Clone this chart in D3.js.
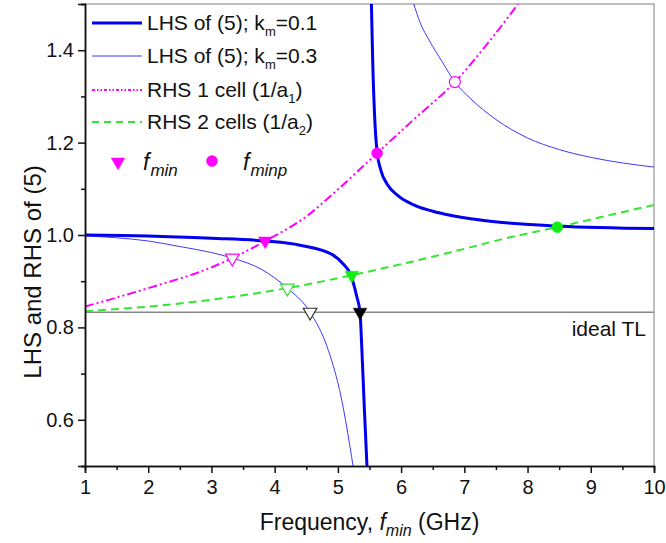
<!DOCTYPE html>
<html>
<head>
<meta charset="utf-8">
<title>LHS and RHS of (5)</title>
<script src="https://d3js.org/d3.v7.min.js"></script>
<style>
  body { margin: 0; background: #fff; font-family: 'Liberation Sans', Arial, sans-serif; }
  text { fill: #111; }
</style>
</head>
<body>
<div id="chart"></div>
<script>
// ******* Data *******
// [frequency GHz, value]
const lhs01Left = [[1,1.0],[2,0.998],[3,0.993],[3.85,0.987],[4.4,0.978],[4.92,0.957],[5.1,0.935],[5.19,0.918],[5.3,0.866],[5.35,0.833],[5.38,0.75],[5.42,0.62],[5.46,0.5]];
const lhs01Right = [[5.53,1.5],[5.55,1.38],[5.58,1.26],[5.62,1.18],[5.68,1.14],[5.78,1.11],[5.95,1.085],[6.2,1.065],[6.6,1.048],[7.1,1.035],[7.6,1.027],[8.5,1.019],[10,1.014]];
const lhs03Left = [[1,0.998],[1.5,0.994],[2,0.987],[2.5,0.975],[3,0.962],[3.33,0.95],[3.8,0.925],[4.2,0.885],[4.56,0.833],[4.85,0.75],[5.05,0.65],[5.24,0.5]];
const lhs03Right = [[6.2,1.5],[6.3,1.46],[6.45,1.42],[6.65,1.375],[6.85,1.331],[7.1,1.295],[7.5,1.25],[8.0,1.21],[8.5,1.185],[9.0,1.168],[9.5,1.156],[10,1.147]];
const rhs1 = [[1,0.845],[2,0.885],[3,0.93],[3.33,0.95],[3.85,0.987],[4.5,1.04],[4.93,1.09],[5.62,1.177],[6.2,1.25],[6.85,1.331],[7.4,1.42],[7.85,1.5]];
const rhs2 = [[1,0.835],[2,0.845],[3,0.86],[4.2,0.885],[5.22,0.913],[6,0.937],[7,0.97],[7.57,0.99],[8.47,1.017],[9.2,1.04],[10,1.065]];
const idealTL = 0.833;

// markers: [f, value, kind, color, filled]
const markers = [
  [3.33, 0.95, "tri", "#ff00ff", false],
  [3.85, 0.987, "tri", "#ff00ff", true],
  [4.2, 0.885, "tri", "#33dd33", false],
  [5.22, 0.913, "tri", "#11ee11", true],
  [4.56, 0.833, "tri", "#333333", false],
  [5.35, 0.833, "tri", "#000000", true],
  [5.62, 1.177, "dot", "#ff00ff", true],
  [6.85, 1.331, "dot", "#ff00ff", false],
  [8.47, 1.017, "dot", "#11ee11", true]
];

const xMajor = [1,2,3,4,5,6,7,8,9,10];
const xMinor = [1.5,2.5,3.5,4.5,5.5,6.5,7.5,8.5,9.5];
const yMajor = [0.6,0.8,1.0,1.2,1.4];
const yMinor = [0.5,0.7,0.9,1.1,1.3,1.5];

// ******* Layout *******
const width = 666, height = 543;
const pLeft = 85, pRight = 654, pTop = 4, pBottom = 466;

const x = d3.scaleLinear().domain([1, 10]).range([pLeft, pRight]);
const y = d3.scaleLinear().domain([0.5, 1.5]).range([pBottom, pTop]);

const svg = d3.select("#chart").append("svg")
    .attr("width", width)
    .attr("height", height);

svg.append("clipPath").attr("id", "clip")
  .append("rect")
    .attr("x", pLeft).attr("y", pTop)
    .attr("width", pRight - pLeft).attr("height", pBottom - pTop);

// frame top/right in grey
svg.append("path")
    .attr("d", `M${pLeft},${pTop}H${pRight}V${pBottom}`)
    .attr("fill", "none")
    .attr("stroke", "#aaa")
    .attr("stroke-width", 1.5);

// ideal TL
svg.append("line")
    .attr("x1", pLeft).attr("x2", pRight)
    .attr("y1", y(idealTL)).attr("y2", y(idealTL))
    .attr("stroke", "#888")
    .attr("stroke-width", 1.5);

svg.append("text")
    .attr("x", 646).attr("y", 336)
    .attr("text-anchor", "end")
    .attr("font-size", 21)
    .text("ideal TL");

// ******* Curves *******
const line = d3.line()
    .x(d => x(d[0]))
    .y(d => y(d[1]))
    .curve(d3.curveMonotoneX);

const g = svg.append("g").attr("clip-path", "url(#clip)");

function drawCurve(data, color, w, dash) {
  g.append("path")
      .datum(data)
      .attr("d", line)
      .attr("fill", "none")
      .attr("stroke", color)
      .attr("stroke-width", w)
      .attr("stroke-dasharray", dash || null);
}

drawCurve(rhs2, "#33e633", 2, "8,5");
drawCurve(rhs1, "#ff00ff", 2, "9,3,2,3,2,3");
drawCurve(lhs03Left, "#3a3aff", 1);
drawCurve(lhs03Right, "#3a3aff", 1);
drawCurve(lhs01Left, "#0000ee", 3);
drawCurve(lhs01Right, "#0000ee", 3);

// ******* Markers *******
const tri = d3.symbol().type(d3.symbolTriangle).size(80);

function drawMarker(sel, m, cx, cy) {
  const color = m[3], filled = m[4];
  if (m[2] === "tri") {
    sel.append("path")
        .attr("d", tri())
        .attr("transform", `translate(${cx},${cy}) rotate(180)`)
        .attr("fill", filled ? color : "#fff")
        .attr("stroke", color)
        .attr("stroke-width", filled ? 0.5 : 1.2);
  } else {
    sel.append("circle")
        .attr("cx", cx).attr("cy", cy)
        .attr("r", 5.5)
        .attr("fill", filled ? color : "#fff")
        .attr("stroke", color)
        .attr("stroke-width", filled ? 0.5 : 1.2);
  }
}

markers.forEach(m => drawMarker(svg, m, x(m[0]), y(m[1])));

// ******* Axes *******
svg.append("g")
    .attr("transform", `translate(0,${pBottom})`)
    .call(d3.axisBottom(x).tickValues(xMajor).tickSize(7).tickPadding(7).tickFormat(d3.format("d")));
svg.append("g")
    .attr("transform", `translate(0,${pBottom})`)
    .call(d3.axisBottom(x).tickValues(xMinor).tickSize(4).tickFormat(""));

svg.append("g")
    .attr("transform", `translate(${pLeft},0)`)
    .call(d3.axisLeft(y).tickValues(yMajor).tickSize(7).tickPadding(4).tickFormat(d3.format(".1f")));
svg.append("g")
    .attr("transform", `translate(${pLeft},0)`)
    .call(d3.axisLeft(y).tickValues(yMinor).tickSize(4).tickFormat(""));

svg.selectAll(".domain").attr("stroke", "#111").attr("stroke-width", 1.5);
svg.selectAll(".tick line").attr("stroke", "#111").attr("stroke-width", 1.5);
svg.selectAll(".tick text")
    .attr("font-size", 20)
    .attr("font-family", "'Liberation Sans', Arial, sans-serif")
    .attr("fill", "#111");

// axis titles
const xt = svg.append("text")
    .attr("x", (pLeft + pRight) / 2)
    .attr("y", 530)
    .attr("text-anchor", "middle")
    .attr("font-size", 23);
xt.append("tspan").text("Frequency, ");
xt.append("tspan").attr("font-style", "italic").text("f");
xt.append("tspan").attr("font-style", "italic").attr("font-size", 16).attr("dy", 6).text("min");
xt.append("tspan").attr("dy", -6).text(" (GHz)");

svg.append("text")
    .attr("transform", `translate(41,272) rotate(-90)`)
    .attr("text-anchor", "middle")
    .attr("font-size", 24)
    .text("LHS and RHS of (5)");

// ******* Legend *******
const legendRows = [
  {main: "LHS of (5); k", sub: "m", tail: "=0.1", color: "#0000ee", w: 3, dash: null},
  {main: "LHS of (5); k", sub: "m", tail: "=0.3", color: "#3a3aff", w: 1, dash: null},
  {main: "RHS 1 cell (1/a", sub: "1", tail: ")", color: "#ff00ff", w: 2, dash: "3,2,1.5,2,1.5,2"},
  {main: "RHS 2 cells (1/a", sub: "2", tail: ")", color: "#33e633", w: 2, dash: "7,5"}
];
const rowY = [23, 56, 90, 122];

const legend = svg.append("g");
legendRows.forEach((r, i) => {
  const ly = rowY[i];
  legend.append("line")
      .attr("x1", 92).attr("x2", 142)
      .attr("y1", ly).attr("y2", ly)
      .attr("stroke", r.color)
      .attr("stroke-width", r.w)
      .attr("stroke-dasharray", r.dash);
  const t = legend.append("text")
      .attr("x", 147).attr("y", ly + 7)
      .attr("font-size", 21);
  t.append("tspan").text(r.main);
  t.append("tspan").attr("font-size", 13).attr("dy", 6).text(r.sub);
  t.append("tspan").attr("dy", -6).text(r.tail);
});

drawMarker(legend, [0, 0, "tri", "#ff00ff", true], 118, 162);
drawMarker(legend, [0, 0, "dot", "#ff00ff", true], 212, 161);

function fLabel(xpos, sub) {
  const t = legend.append("text")
      .attr("x", xpos).attr("y", 170)
      .attr("font-size", 23)
      .attr("font-style", "italic");
  t.append("tspan").text("f");
  t.append("tspan").attr("font-size", 17).attr("dy", 6).attr("dx", 1).text(sub);
}
fLabel(143, "min");
fLabel(243, "minp");
</script>
</body>
</html>
